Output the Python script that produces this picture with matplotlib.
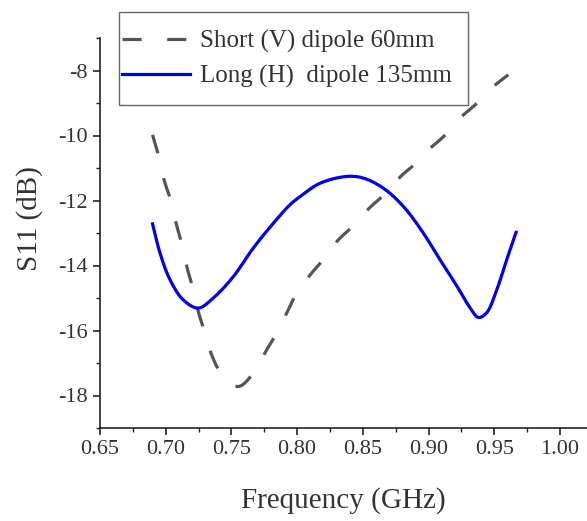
import matplotlib
matplotlib.use("Agg")
import matplotlib.pyplot as plt
from matplotlib.ticker import MultipleLocator, FormatStrFormatter
from matplotlib.patches import Rectangle
import numpy as np

plt.rcParams['font.family'] = ['Liberation Serif', 'DejaVu Serif']
plt.rcParams['axes.unicode_minus'] = False

# Short (V) dipole 60mm
short_freq = [0.690, 0.6944, 0.6987, 0.7033, 0.7079, 0.7117, 0.716, 0.7203, 0.7248, 0.7291,
              0.7345, 0.7413, 0.7490, 0.7560, 0.7667, 0.7769, 0.7845, 0.7933, 0.800, 0.8111,
              0.820, 0.8314, 0.8428, 0.855, 0.867, 0.8788, 0.8905, 0.900, 0.9115, 0.924,
              0.9354, 0.948, 0.9607]
short_s11 = [-9.98, -10.59, -11.36, -11.93, -12.70, -13.26, -14.03, -14.65, -15.42, -15.98,
             -16.70, -17.28, -17.62, -17.72, -17.31, -16.59, -16.08, -15.36, -14.82, -14.23,
             -13.82, -13.21, -12.78, -12.23, -11.80, -11.26, -10.85, -10.44, -10.03, -9.46,
             -9.06, -8.54, -8.13]

# Long (H) dipole 135mm
long_freq = [0.690, 0.6957, 0.7033, 0.7134, 0.7248, 0.7362, 0.7515, 0.7667, 0.7819, 0.7946,
             0.8022, 0.8174, 0.8377, 0.8504, 0.8656, 0.8808, 0.896, 0.9087, 0.9214, 0.9316,
             0.938, 0.9443, 0.9519, 0.9595, 0.9666]
long_s11 = [-12.72, -13.62, -14.44, -15.06, -15.31, -15.00, -14.34, -13.46, -12.70, -12.13,
            -11.88, -11.47, -11.26, -11.31, -11.62, -12.18, -13.00, -13.82, -14.62, -15.30,
            -15.60, -15.45, -14.75, -13.82, -12.98]

fig = plt.figure(figsize=(5.87, 5.21), dpi=100)
ax = fig.add_axes([100/587, 93/521, 487/587, 390/521])


def smooth(x, y, n=16):
    """Centripetal Catmull-Rom curve through the read points."""
    x = np.asarray(x, float); y = np.asarray(y, float)
    sxv, syv = 65.7 / 0.05, 32.5
    pts = np.column_stack([x * sxv, y * syv])
    P = np.vstack([2 * pts[0] - pts[1], pts, 2 * pts[-1] - pts[-2]])
    out = []
    for i in range(1, len(P) - 2):
        p0, p1, p2, p3 = P[i - 1], P[i], P[i + 1], P[i + 2]

        def tj(ti, a, b):
            return ti + np.linalg.norm(b - a) ** 0.5
        t0 = 0.0
        t1 = tj(t0, p0, p1)
        t2 = tj(t1, p1, p2)
        t3 = tj(t2, p2, p3)
        t = np.linspace(t1, t2, n, endpoint=False)[:, None]
        A1 = (t1 - t) / (t1 - t0) * p0 + (t - t0) / (t1 - t0) * p1
        A2 = (t2 - t) / (t2 - t1) * p1 + (t - t1) / (t2 - t1) * p2
        A3 = (t3 - t) / (t3 - t2) * p2 + (t - t2) / (t3 - t2) * p3
        B1 = (t2 - t) / (t2 - t0) * A1 + (t - t0) / (t2 - t0) * A2
        B2 = (t3 - t) / (t3 - t1) * A2 + (t - t1) / (t3 - t1) * A3
        C = (t2 - t) / (t2 - t1) * B1 + (t - t1) / (t2 - t1) * B2
        out.append(C)
    out.append(pts[-1][None, :])
    out = np.vstack(out)
    return out[:, 0] / sxv, out[:, 1] / syv


sx, sy = smooth(short_freq, short_s11)
lx, ly = smooth(long_freq, long_s11)

ax.plot(sx, sy, color='#555555', lw=2.3, linestyle=(0, (6, 8)), label='Short (V) dipole 60mm')
ax.plot(lx, ly, color='#0000E6', lw=2.3, label='Long (H)  dipole 135mm')

ax.set_xlim(0.65, 1.0206)
ax.set_ylim(-19, -7)
ax.xaxis.set_major_locator(MultipleLocator(0.05))
ax.xaxis.set_minor_locator(MultipleLocator(0.025))
ax.yaxis.set_minor_locator(MultipleLocator(1))
ax.xaxis.set_major_formatter(FormatStrFormatter('%.2f'))
ax.yaxis.set_major_formatter(FormatStrFormatter('%d'))
ax.set_yticks([-18, -16, -14, -12, -10, -8])

for s in ['top', 'right']:
    ax.spines[s].set_visible(False)
for s in ['left', 'bottom']:
    ax.spines[s].set_linewidth(1.2)
    ax.spines[s].set_color('#222222')

ax.tick_params(axis='both', which='major', direction='out', length=5, width=1.2,
               labelsize=16, colors='#222222', labelcolor='#333333', pad=4)
ax.tick_params(axis='both', which='minor', direction='out', length=3, width=1.0, colors='#222222')

ax.set_xlabel('Frequency (GHz)', fontsize=21, labelpad=20, color='#333333')
ax.set_ylabel('S11 (dB)', fontsize=21, color='#333333')
ax.yaxis.set_label_coords(-0.118, 0.536)

leg = fig.legend(loc='upper left', bbox_to_anchor=(122/587, 1 - 30/521),
                 fontsize=18, frameon=False, handlelength=2.7,
                 borderaxespad=0, borderpad=0, labelspacing=0.48, handletextpad=0.4)
for t in leg.get_texts():
    t.set_color('#333333')
fig.patches.append(Rectangle((119/587, 1 - 105/521), 349/587, 93/521,
                             transform=fig.transFigure, fill=False,
                             edgecolor='#666666', linewidth=1.0, zorder=5))

fig.savefig('out.png', dpi=100)
